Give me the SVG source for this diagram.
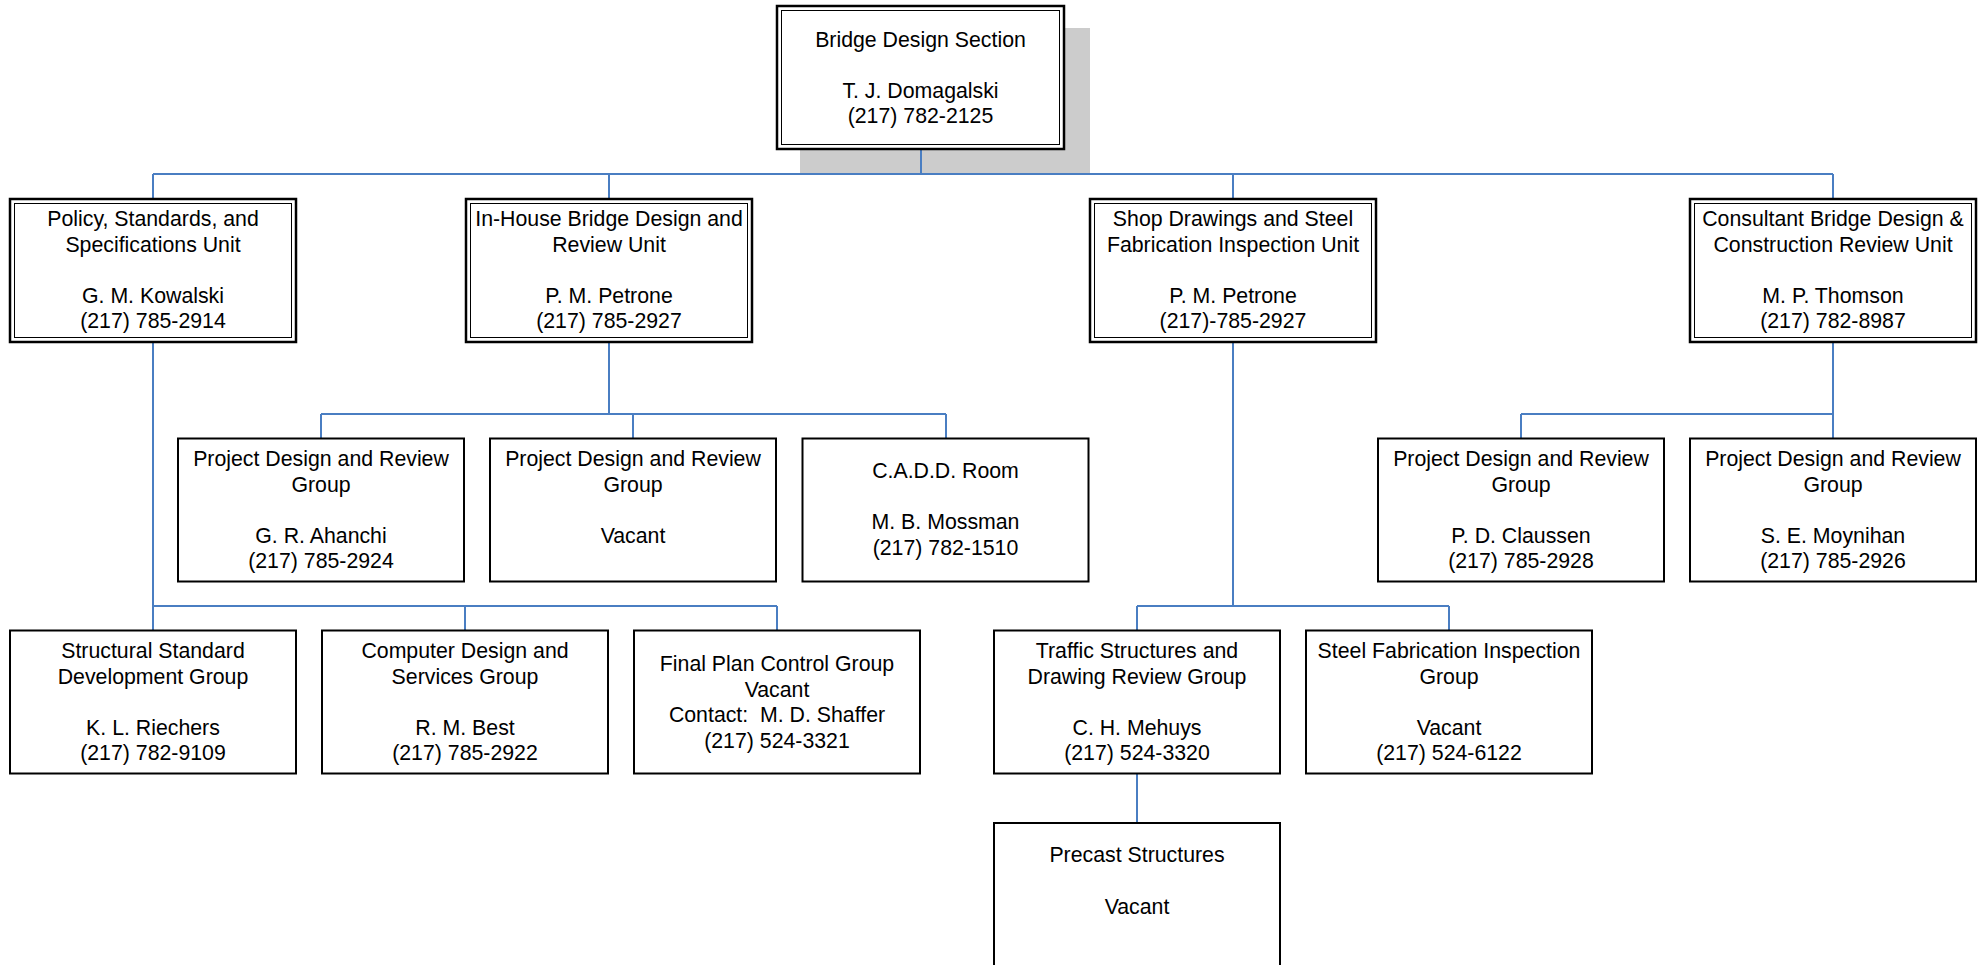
<svg xmlns="http://www.w3.org/2000/svg" width="1986" height="965" viewBox="0 0 1986 965">
<style>
  text { font-family: "Liberation Sans", Arial, sans-serif; font-size: 21.3px; fill: #000; text-anchor: middle; }
  .outer { fill: #fff; stroke: #000; stroke-width: 2.5; }
  .inner { fill: none; stroke: #000; stroke-width: 1; }
  .box { fill: #fff; stroke: #000; stroke-width: 2; }
  .shadow { fill: #CCCCCC; stroke: none; }
  .conn { fill: none; stroke: #4A7EC2; stroke-width: 2; }
</style>
<rect width="1986" height="965" fill="#fff"/>
<rect class="shadow" x="800" y="28" width="290" height="145"/>

<g id="connectors">
  <path class="conn" d="M921,150 V174 M153,174 H1833 M153,174 V198 M609,174 V198 M1233,174 V198 M1833,174 V198"/>
  <path class="conn" d="M153,343 V630 M153,606 H777 M465,606 V630 M777,606 V630"/>
  <path class="conn" d="M609,343 V414 M321,414 H946 M321,414 V438 M633,414 V438 M946,414 V438"/>
  <path class="conn" d="M1233,343 V606 M1137,606 H1449 M1137,606 V630 M1449,606 V630"/>
  <path class="conn" d="M1833,343 V438 M1521,414 H1833 M1521,414 V438"/>
  <path class="conn" d="M1137,774 V822"/>
</g>

<g id="n-bridge">
  <rect class="outer" x="777" y="6" width="287" height="143"/>
  <rect class="inner" x="781.5" y="10.5" width="278" height="134"/>
  <text x="920.5" y="46.5">Bridge Design Section</text>
  <text x="920.5" y="97.5">T. J. Domagalski</text>
  <text x="920.5" y="123">(217) 782-2125</text>
</g>

<g id="n-policy">
  <rect class="outer" x="10" y="199" width="286" height="143"/>
  <rect class="inner" x="14.5" y="203.5" width="277" height="134"/>
  <text x="153" y="226">Policy, Standards, and</text>
  <text x="153" y="251.5">Specifications Unit</text>
  <text x="153" y="302.5">G. M. Kowalski</text>
  <text x="153" y="328">(217) 785-2914</text>
</g>

<g id="n-inhouse">
  <rect class="outer" x="466" y="199" width="286" height="143"/>
  <rect class="inner" x="470.5" y="203.5" width="277" height="134"/>
  <text x="609" y="226">In-House Bridge Design and</text>
  <text x="609" y="251.5">Review Unit</text>
  <text x="609" y="302.5">P. M. Petrone</text>
  <text x="609" y="328">(217) 785-2927</text>
</g>

<g id="n-shop">
  <rect class="outer" x="1090" y="199" width="286" height="143"/>
  <rect class="inner" x="1094.5" y="203.5" width="277" height="134"/>
  <text x="1233" y="226">Shop Drawings and Steel</text>
  <text x="1233" y="251.5">Fabrication Inspection Unit</text>
  <text x="1233" y="302.5">P. M. Petrone</text>
  <text x="1233" y="328">(217)-785-2927</text>
</g>

<g id="n-consultant">
  <rect class="outer" x="1690" y="199" width="286" height="143"/>
  <rect class="inner" x="1694.5" y="203.5" width="277" height="134"/>
  <text x="1833" y="226">Consultant Bridge Design &amp;</text>
  <text x="1833" y="251.5">Construction Review Unit</text>
  <text x="1833" y="302.5">M. P. Thomson</text>
  <text x="1833" y="328">(217) 782-8987</text>
</g>

<g id="n-ahanchi">
  <rect class="box" x="178" y="438.5" width="286" height="143"/>
  <text x="321" y="466">Project Design and Review</text>
  <text x="321" y="491.5">Group</text>
  <text x="321" y="542.5">G. R. Ahanchi</text>
  <text x="321" y="568">(217) 785-2924</text>
</g>

<g id="n-vacant-pdr">
  <rect class="box" x="490" y="438.5" width="286" height="143"/>
  <text x="633" y="466">Project Design and Review</text>
  <text x="633" y="491.5">Group</text>
  <text x="633" y="542.5">Vacant</text>
</g>

<g id="n-cadd">
  <rect class="box" x="802.5" y="438.5" width="286" height="143"/>
  <text x="945.5" y="478">C.A.D.D. Room</text>
  <text x="945.5" y="529">M. B. Mossman</text>
  <text x="945.5" y="554.5">(217) 782-1510</text>
</g>

<g id="n-claussen">
  <rect class="box" x="1378" y="438.5" width="286" height="143"/>
  <text x="1521" y="466">Project Design and Review</text>
  <text x="1521" y="491.5">Group</text>
  <text x="1521" y="542.5">P. D. Claussen</text>
  <text x="1521" y="568">(217) 785-2928</text>
</g>

<g id="n-moynihan">
  <rect class="box" x="1690" y="438.5" width="286" height="143"/>
  <text x="1833" y="466">Project Design and Review</text>
  <text x="1833" y="491.5">Group</text>
  <text x="1833" y="542.5">S. E. Moynihan</text>
  <text x="1833" y="568">(217) 785-2926</text>
</g>

<g id="n-structural">
  <rect class="box" x="10" y="630.5" width="286" height="143"/>
  <text x="153" y="658">Structural Standard</text>
  <text x="153" y="683.5">Development Group</text>
  <text x="153" y="734.5">K. L. Riechers</text>
  <text x="153" y="760">(217) 782-9109</text>
</g>

<g id="n-computer">
  <rect class="box" x="322" y="630.5" width="286" height="143"/>
  <text x="465" y="658">Computer Design and</text>
  <text x="465" y="683.5">Services Group</text>
  <text x="465" y="734.5">R. M. Best</text>
  <text x="465" y="760">(217) 785-2922</text>
</g>

<g id="n-finalplan">
  <rect class="box" x="634" y="630.5" width="286" height="143"/>
  <text x="777" y="671">Final Plan Control Group</text>
  <text x="777" y="696.5">Vacant</text>
  <text x="777" y="722" xml:space="preserve">Contact:  M. D. Shaffer</text>
  <text x="777" y="747.5">(217) 524-3321</text>
</g>

<g id="n-traffic">
  <rect class="box" x="994" y="630.5" width="286" height="143"/>
  <text x="1137" y="658">Traffic Structures and</text>
  <text x="1137" y="683.5">Drawing Review Group</text>
  <text x="1137" y="734.5">C. H. Mehuys</text>
  <text x="1137" y="760">(217) 524-3320</text>
</g>

<g id="n-steelfab">
  <rect class="box" x="1306" y="630.5" width="286" height="143"/>
  <text x="1449" y="658">Steel Fabrication Inspection</text>
  <text x="1449" y="683.5">Group</text>
  <text x="1449" y="734.5">Vacant</text>
  <text x="1449" y="760">(217) 524-6122</text>
</g>

<g id="n-precast">
  <rect class="box" x="994" y="823" width="286" height="143"/>
  <text x="1137" y="862">Precast Structures</text>
  <text x="1137" y="913.5">Vacant</text>
</g>
</svg>
